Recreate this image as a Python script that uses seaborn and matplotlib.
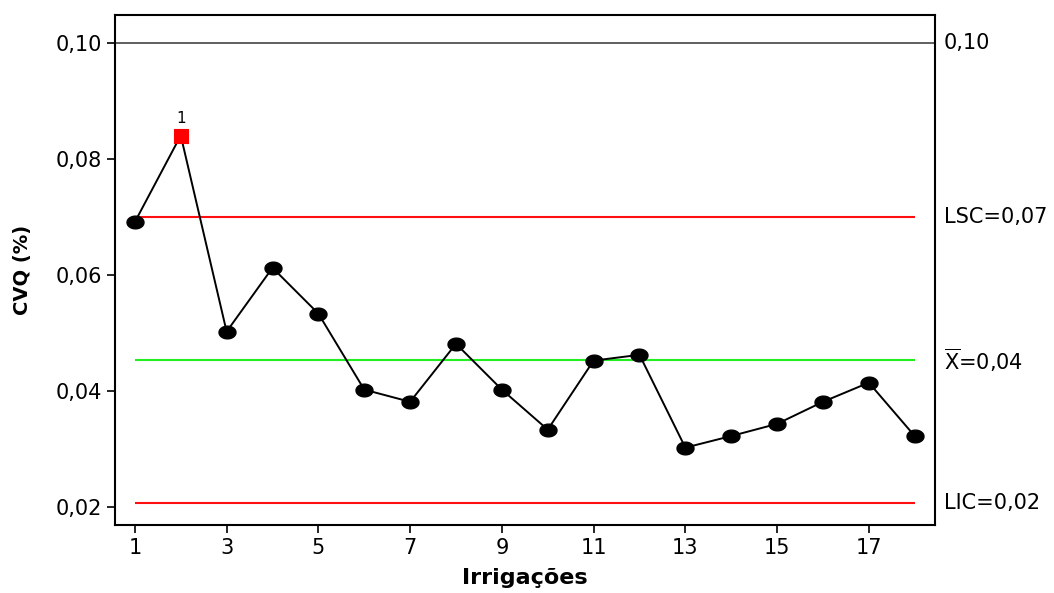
import matplotlib
matplotlib.use('Agg')
import matplotlib.pyplot as plt
import seaborn as sns
import pandas as pd
import numpy as np
from matplotlib.ticker import FuncFormatter
from matplotlib.path import Path

# dados da carta de controle (CVQ por irrigação)
irrigacoes = list(range(1, 19))
cvq = [0.0691, 0.0840, 0.0502, 0.0612, 0.0533, 0.0402, 0.0381, 0.0481, 0.0402,
       0.0333, 0.0452, 0.0462, 0.0302, 0.0322, 0.0343, 0.0381, 0.0414, 0.0322]
fora_controle = [2]

lsc = 0.0700
media = 0.0453
lic = 0.0207
topo = 0.10

lsc_txt = 'LSC=0,07'
media_txt = r'$\mathregular{\overline{X}}$=0,04'
lic_txt = 'LIC=0,02'
topo_txt = '0,10'

df = pd.DataFrame({'irrigacao': irrigacoes, 'cvq': cvq})
df['fora'] = df['irrigacao'].isin(fora_controle)

sns.set_style('ticks', rc={'text.color': 'black', 'axes.labelcolor': 'black',
                           'xtick.color': 'black', 'ytick.color': 'black',
                           'axes.edgecolor': 'black'})
plt.rcParams['font.family'] = ['DejaVu Sans']

# marcador elíptico (pontos um pouco achatados como no original)
t = np.linspace(0, 2 * np.pi, 40)
elipse = Path(np.column_stack([np.cos(t), 0.75 * np.sin(t)]), closed=True)

fig = plt.figure(figsize=(10.54, 5.93), dpi=100)
ax = fig.add_axes([0.109, 0.115, 0.778, 0.86])

x0, x1 = min(irrigacoes), max(irrigacoes)
ax.axhline(topo, color='#444444', lw=1.2)
ax.hlines([lsc, lic], x0, x1, color='#ff1010', lw=1.5)
ax.hlines(media, x0, x1, color='#22ee22', lw=1.5)

sns.lineplot(data=df, x='irrigacao', y='cvq', color='black', lw=1.4, ax=ax)
ok = df[~df['fora']]
bad = df[df['fora']]
sns.scatterplot(data=ok, x='irrigacao', y='cvq', color='black', s=150,
                marker=elipse, edgecolor='black', ax=ax, zorder=3)
sns.scatterplot(data=bad, x='irrigacao', y='cvq', color='#ff0000', marker='s',
                s=100, edgecolor='#ff0000', ax=ax, zorder=3)
for _, r in bad.iterrows():
    ax.annotate('1', (r['irrigacao'], r['cvq']), xytext=(0, 7),
                textcoords='offset points', ha='center', va='bottom', fontsize=11)

ax.set_xlim(0.564, 18.44)
ax.set_ylim(0.0169, 0.1048)
ax.set_xticks(range(1, 19, 2))
ax.set_yticks([0.02, 0.04, 0.06, 0.08, 0.10])
ax.yaxis.set_major_formatter(FuncFormatter(lambda v, p: f'{v:.2f}'.replace('.', ',')))
ax.tick_params(labelsize=15, length=6, width=1.2)
for s in ax.spines.values():
    s.set_linewidth(1.5)

ax.set_xlabel('Irrigações', fontsize=16, fontweight='bold', labelpad=7)
ax.set_ylabel('CVQ (%)', fontsize=14, fontweight='bold', labelpad=17)

trans = ax.get_yaxis_transform()
for val, txt in [(topo, topo_txt), (lsc, lsc_txt), (media, media_txt), (lic, lic_txt)]:
    ax.text(1.011, val, txt, transform=trans, ha='left', va='center',
            fontsize=15, clip_on=False)

fig.savefig('out.png', dpi=100)
